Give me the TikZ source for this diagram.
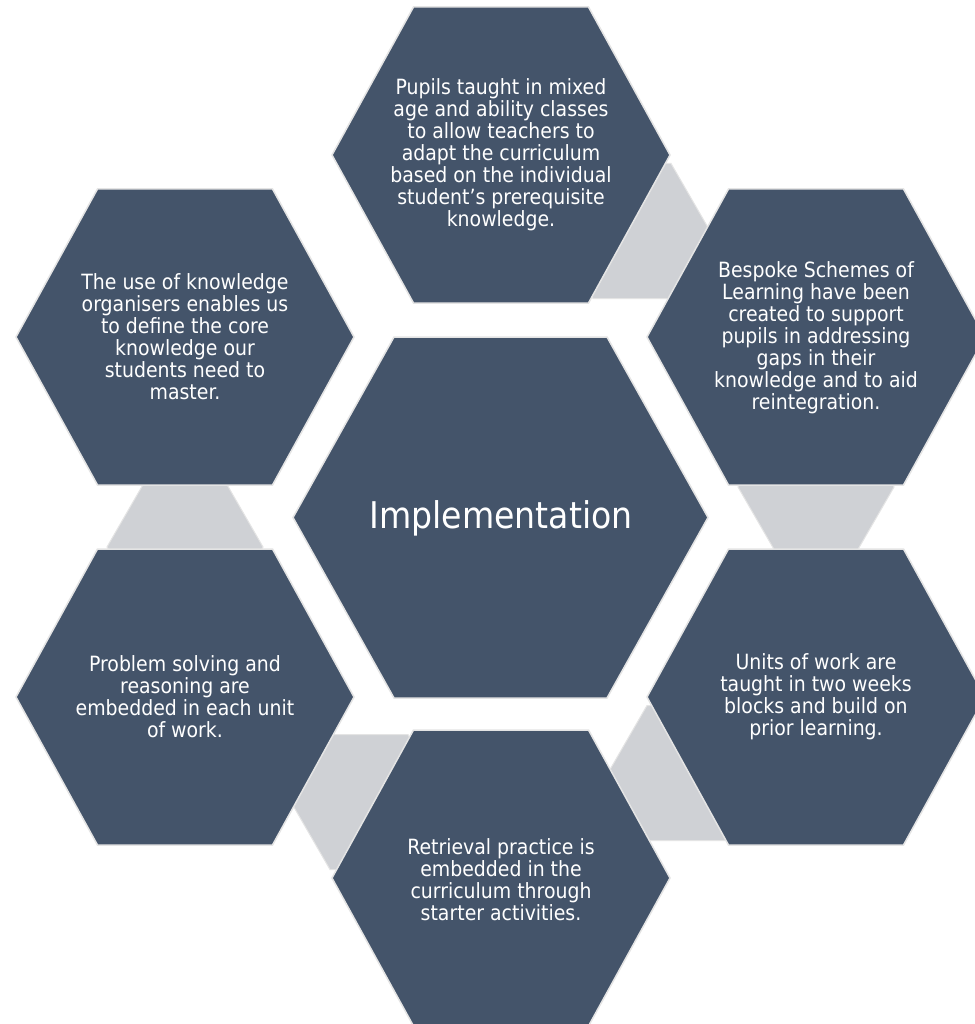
\documentclass[tikz,border=0pt]{standalone}
\usepackage{fontspec}
\setmainfont{DejaVu Sans Condensed}
\definecolor{hexdark}{HTML}{44546A}
\definecolor{hexgray}{HTML}{CFD1D5}
\definecolor{hexline}{HTML}{E4E4E4}
% #1 style, #2 cx, #3 cy, #4 half-width, #5 half top edge, #6 half-height
\newcommand\hexshape[6]{%
  \path[#1] (#2-#4,#3) -- (#2-#5,#3-#6) -- (#2+#5,#3-#6) -- (#2+#4,#3)
    -- (#2+#5,#3+#6) -- (#2-#5,#3+#6) -- cycle;}
\tikzset{
  darkhex/.style={fill=hexdark, draw=hexline, line width=1.5pt},
  grayhex/.style={fill=hexgray, draw=hexline, line width=1pt},
  txt/.style={text=white, align=center, inner sep=0pt, font=\fontsize{21}{22}\selectfont},
  bigtxt/.style={text=white, inner sep=0pt, font=\fontsize{36.8}{40}\selectfont}
}
\begin{document}
\begin{tikzpicture}[x=1pt, y=-1pt]
\useasboundingbox (0,0) rectangle (974,1024);
\fill[white] (0,0) rectangle (974,1024);
% gray connector hexagons (behind)
\hexshape{grayhex}{632}{231}{78}{39}{67.5}
\hexshape{grayhex}{816}{487}{78}{39}{67.5}
\hexshape{grayhex}{686}{773}{78}{39}{67.5}
\hexshape{grayhex}{369}{802}{78}{39}{67.5}
\hexshape{grayhex}{185}{547}{78}{39}{67.5}
% outer hexagons
\hexshape{darkhex}{501}{155}{169}{87.5}{148}
\hexshape{darkhex}{816}{337}{169}{87.5}{148}
\hexshape{darkhex}{816}{697}{169}{87.5}{148}
\hexshape{darkhex}{501}{878}{169}{87.5}{148}
\hexshape{darkhex}{185}{697}{169}{87.5}{148}
\hexshape{darkhex}{185}{337}{169}{87.5}{148}
% central hexagon
\hexshape{darkhex}{500.5}{517.5}{207.5}{106.5}{180.5}
% texts
\node[bigtxt] (impl) at (501,518) {Implementation};
\node[txt] (top) at (501,155) {Pupils taught in mixed\\age and ability classes\\to allow teachers to\\adapt the curriculum\\based on the individual\\student’s prerequisite\\knowledge.};
\node[txt] (topright) at (816,338) {Bespoke Schemes of\\Learning have been\\created to support\\pupils in addressing\\gaps in their\\knowledge and to aid\\reintegration.};
\node[txt] (botright) at (816,697) {Units of work are\\taught in two weeks\\blocks and build on\\prior learning.};
\node[txt] (bottom) at (501,880) {Retrieval practice is\\embedded in the\\curriculum through\\starter activities.};
\node[txt] (botleft) at (185,697) {Problem solving and\\reasoning are\\embedded in each unit\\of work.};
\node[txt] (topleft) at (185,337) {The use of knowledge\\organisers enables us\\to define the core\\knowledge our\\students need to\\master.};
\end{tikzpicture}
\end{document}
